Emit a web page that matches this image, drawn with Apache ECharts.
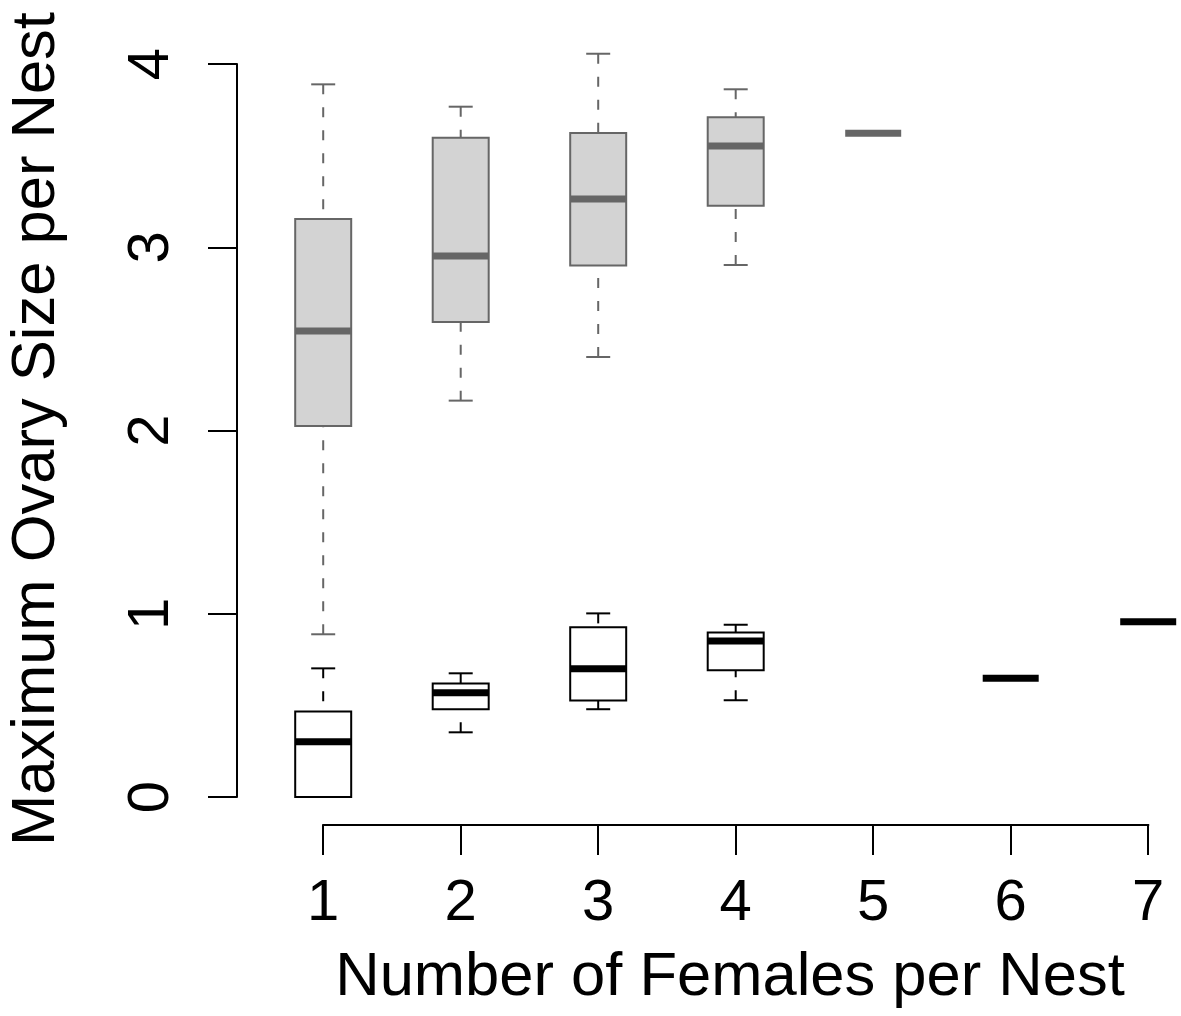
<!DOCTYPE html>
<html>
<head>
<meta charset="utf-8">
<script src="https://cdn.jsdelivr.net/npm/echarts@6/dist/echarts.min.js"></script>
<style>
  html, body { margin: 0; padding: 0; background: #ffffff; }
  #chart { width: 1181px; height: 1016px; }
</style>
</head>
<body>
<div id="chart"></div>
<script>
// Nest sizes shown on the x axis
const nestSizes = [1, 2, 3, 4, 5, 6, 7];
// Y axis tick values
const yTicks = [0, 1, 2, 3, 4];

// Group one (grey boxes): five-number summaries per nest size
const groupOnePos = [1, 2, 3, 4, 5];
const groupOneLow = [0.888, 2.163, 2.401, 2.903, 3.622];
const groupOneQ1 = [2.025, 2.592, 2.901, 3.227, 3.622];
const groupOneMed = [2.543, 2.952, 3.263, 3.553, 3.622];
const groupOneQ3 = [3.154, 3.598, 3.623, 3.709, 3.622];
const groupOneHigh = [3.889, 3.767, 4.056, 3.862, 3.622];

// Group two (white boxes): five-number summaries per nest size
const groupTwoPos = [1, 2, 3, 4, 6, 7];
const groupTwoLow = [0.000, 0.353, 0.479, 0.528, 0.648, 0.957];
const groupTwoQ1 = [0.000, 0.479, 0.526, 0.691, 0.648, 0.957];
const groupTwoMed = [0.302, 0.569, 0.700, 0.851, 0.648, 0.957];
const groupTwoQ3 = [0.466, 0.620, 0.926, 0.897, 0.648, 0.957];
const groupTwoHigh = [0.702, 0.675, 1.002, 0.940, 0.648, 0.957];

const X_TITLE = 'Number of Females per Nest';
const Y_TITLE = 'Maximum Ovary Size per Nest';

const FONT = '"Liberation Sans", Arial, Helvetica, sans-serif';
const HALF_BOX = 0.2036;   // half box width in x units
const HALF_CAP = 0.0873;   // half whisker-cap width in x units
const X_MIN = 0.3731;
const X_MAX = 7.2385;

function rows(pos, lo, q1, med, q3, hi) {
  return pos.map((p, i) => [p, lo[i], q1[i], med[i], q3[i], hi[i]]);
}

function boxRenderer(fill, stroke) {
  return function (params, api) {
    const x = api.value(0);
    const lo = api.value(1), q1 = api.value(2), med = api.value(3);
    const q3 = api.value(4), hi = api.value(5);
    const children = [];
    const dashed = { stroke: stroke, lineWidth: 2, lineDash: [10, 13] };
    const solid = { stroke: stroke, lineWidth: 2 };
    if (hi - lo > 0) {
      // whiskers run from the whisker end toward the box
      const a = api.coord([x, hi]), b = api.coord([x, q3]);
      const c = api.coord([x, lo]), d = api.coord([x, q1]);
      children.push({ type: 'line', shape: { x1: a[0], y1: a[1], x2: b[0], y2: b[1] }, style: dashed });
      children.push({ type: 'line', shape: { x1: c[0], y1: c[1], x2: d[0], y2: d[1] }, style: dashed });
      const capHiL = api.coord([x - HALF_CAP, hi]), capHiR = api.coord([x + HALF_CAP, hi]);
      const capLoL = api.coord([x - HALF_CAP, lo]), capLoR = api.coord([x + HALF_CAP, lo]);
      children.push({ type: 'line', shape: { x1: capHiL[0], y1: capHiL[1], x2: capHiR[0], y2: capHiR[1] }, style: solid });
      children.push({ type: 'line', shape: { x1: capLoL[0], y1: capLoL[1], x2: capLoR[0], y2: capLoR[1] }, style: solid });
      const tl = api.coord([x - HALF_BOX, q3]);
      const br = api.coord([x + HALF_BOX, q1]);
      children.push({
        type: 'rect',
        shape: { x: tl[0], y: tl[1], width: br[0] - tl[0], height: br[1] - tl[1] },
        style: { fill: fill, stroke: stroke, lineWidth: 2 }
      });
    }
    const mL = api.coord([x - HALF_BOX, med]), mR = api.coord([x + HALF_BOX, med]);
    children.push({
      type: 'line',
      shape: { x1: mL[0], y1: mL[1], x2: mR[0], y2: mR[1] },
      style: { stroke: stroke, lineWidth: 7 }
    });
    return { type: 'group', children: children };
  };
}

const chart = echarts.init(document.getElementById('chart'), null, { renderer: 'canvas' });

chart.setOption({
  backgroundColor: '#ffffff',
  animation: false,
  grid: [
    // plotting region
    { left: 237, top: 64, width: 944, height: 733, containLabel: false },
    // strip that carries the x axis, set below the plotting region
    { left: 237, top: 815, width: 944, height: 10, containLabel: false }
  ],
  xAxis: [
    {
      gridIndex: 0,
      type: 'value',
      min: X_MIN,
      max: X_MAX,
      show: false,
      splitLine: { show: false }
    },
    {
      gridIndex: 1,
      type: 'value',
      min: X_MIN,
      max: X_MAX,
      splitLine: { show: false },
      axisLine: { show: false },
      axisTick: {
        show: true,
        customValues: nestSizes,
        length: 30,
        lineStyle: { color: '#000000', width: 2 }
      },
      axisLabel: {
        show: true,
        customValues: nestSizes,
        margin: 50,
        fontFamily: FONT,
        fontSize: 58,
        color: '#000000'
      }
    }
  ],
  yAxis: [
    {
      gridIndex: 0,
      type: 'value',
      min: 0,
      max: 4,
      interval: 1,
      splitLine: { show: false },
      axisLine: { show: true, lineStyle: { color: '#000000', width: 2 } },
      axisTick: { show: true, length: 29, lineStyle: { color: '#000000', width: 2 } },
      axisLabel: {
        show: true,
        rotate: 90,
        margin: 56,
        fontFamily: FONT,
        fontSize: 58,
        color: '#000000',
        formatter: v => (yTicks.indexOf(v) >= 0 ? String(v) : '')
      }
    },
    {
      gridIndex: 1,
      type: 'value',
      min: 0,
      max: 1,
      show: false,
      splitLine: { show: false }
    }
  ],
  graphic: [
    {
      type: 'text',
      x: 730,
      y: 978,
      style: {
        text: X_TITLE,
        font: '61.5px ' + FONT,
        fill: '#000000',
        align: 'center',
        verticalAlign: 'middle'
      }
    },
    {
      type: 'text',
      x: 37,
      y: 429,
      rotation: Math.PI / 2,
      style: {
        text: Y_TITLE,
        font: '61.5px ' + FONT,
        fill: '#000000',
        align: 'center',
        verticalAlign: 'middle'
      }
    }
  ],
  series: [
    {
      // x axis line spanning the first to the last nest size
      type: 'custom',
      silent: true,
      clip: false,
      xAxisIndex: 1,
      yAxisIndex: 1,
      data: [[nestSizes[0], nestSizes[nestSizes.length - 1]]],
      renderItem: function (params, api) {
        const a = api.coord([api.value(0), 0]);
        const b = api.coord([api.value(1), 0]);
        return {
          type: 'line',
          shape: { x1: a[0], y1: a[1], x2: b[0], y2: b[1] },
          style: { stroke: '#000000', lineWidth: 2, lineCap: 'square' }
        };
      }
    },
    {
      type: 'custom',
      clip: false,
      xAxisIndex: 0,
      yAxisIndex: 0,
      data: rows(groupOnePos, groupOneLow, groupOneQ1, groupOneMed, groupOneQ3, groupOneHigh),
      renderItem: boxRenderer('#d3d3d3', '#666666')
    },
    {
      type: 'custom',
      clip: false,
      xAxisIndex: 0,
      yAxisIndex: 0,
      data: rows(groupTwoPos, groupTwoLow, groupTwoQ1, groupTwoMed, groupTwoQ3, groupTwoHigh),
      renderItem: boxRenderer('#ffffff', '#000000')
    }
  ]
});
</script>
</body>
</html>
